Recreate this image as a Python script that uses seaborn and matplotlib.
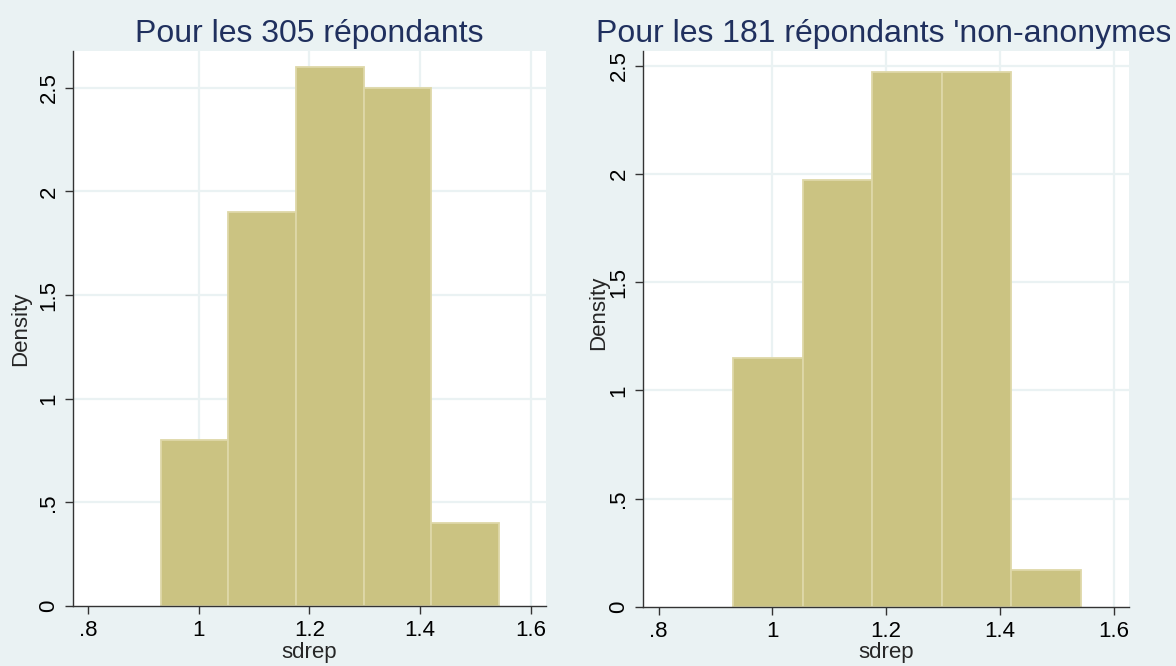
import numpy as np
import pandas as pd
import matplotlib
matplotlib.use('Agg')
import matplotlib.pyplot as plt
from matplotlib.transforms import Bbox
import seaborn as sns

# histogram bins of sdrep
bin_edges = [0.931, 1.053, 1.175, 1.298, 1.420, 1.542]
dens_all = [0.80, 1.90, 2.60, 2.50, 0.40]      # 305 respondents
dens_named = [1.15, 1.97, 2.47, 2.47, 0.17]    # 181 'non-anonymous' respondents

titles = ["Pour les 305 répondants", "Pour les 181 répondants 'non-anonymes'"]
x_ticks = [0.8, 1.0, 1.2, 1.4, 1.6]
x_labels = ['.8', '1', '1.2', '1.4', '1.6']
y_ticks = [0, 0.5, 1, 1.5, 2, 2.5]
y_labels = ['0', '.5', '1', '1.5', '2', '2.5']

# Stata s2color look
bg = '#EAF2F3'
bar_fill = '#CBC382'
bar_edge = '#DED8A8'
title_col = '#20305E'

sns.set_style('white')
plt.rcParams['font.family'] = ['Liberation Sans', 'DejaVu Sans']

fig = plt.figure(figsize=(11.76, 6.66), dpi=100, facecolor=bg)

panels = [
    # data, axes rect, ylim top, ylabel coords
    (dens_all, [0.0623, 0.0901, 0.4020, 0.8333], 2.677, (-0.1106, 0.5)),
    (dens_named, [0.5470, 0.0890, 0.4133, 0.8344], 2.568, (-0.091, 0.529)),
]

for (dens, rect, ytop, ylab_xy), title in zip(panels, titles):
    ax = fig.add_axes(rect)
    ax.set_facecolor('white')
    df = pd.DataFrame({
        'sdrep': (np.array(bin_edges[:-1]) + np.array(bin_edges[1:])) / 2,
        'density': dens,
    })
    sns.histplot(data=df, x='sdrep', weights='density', bins=bin_edges,
                 color=bar_fill, edgecolor=bar_edge, linewidth=1.3,
                 alpha=1, ax=ax, zorder=2)

    ax.set_xlim(0.7729, 1.6277)
    ax.set_ylim(0, ytop)
    ax.set_xticks(x_ticks)
    ax.set_xticklabels(x_labels)
    ax.set_yticks(y_ticks)
    ax.set_yticklabels(y_labels, rotation=90, va='center')

    # grid like Stata: no line on the first x tick or on y=0
    ax.grid(True, color=bg, linewidth=1.6, zorder=0)
    ax.set_axisbelow(True)
    ax.xaxis.get_gridlines()[0].set_visible(False)
    ax.yaxis.get_gridlines()[0].set_visible(False)

    for side in ['top', 'right']:
        ax.spines[side].set_visible(False)
    for side in ['left', 'bottom']:
        ax.spines[side].set_color('#333333')
        ax.spines[side].set_linewidth(1.0)
    ax.tick_params(axis='both', direction='out', length=6, width=1.0,
                   color='#333333', labelsize=16, pad=4, labelcolor='black')
    ax.tick_params(left=True, bottom=True)

    ax.set_xlabel('sdrep', fontsize=16)
    ax.xaxis.set_label_coords(0.5, -0.083)
    ax.xaxis.label.set_va('center')
    ax.set_ylabel('Density', fontsize=16)
    ax.yaxis.set_label_coords(*ylab_xy)
    ax.yaxis.label.set_va('center')

    t = ax.set_title(title, fontsize=23, color=title_col, pad=6.7)
    # Stata cuts the long title at the edge of its sub-graph
    t.set_clip_box(Bbox.from_extents(0, 0, 1170, 666))
    t.set_clip_on(True)

fig.savefig('out.png', dpi=100, facecolor=bg)
